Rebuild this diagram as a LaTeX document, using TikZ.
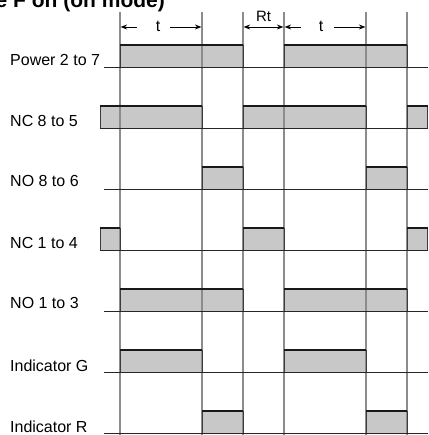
\documentclass[tikz,border=0pt]{standalone}
\usepackage{fontspec}
\setmainfont{Liberation Sans}
\usetikzlibrary{arrows.meta}
\definecolor{boxfill}{RGB}{200,200,200}
\definecolor{vgray}{RGB}{140,140,140}
\definecolor{edgegray}{RGB}{60,60,60}
\begin{document}
\begin{tikzpicture}[x=1pt,y=-1pt,
  lbl/.style={anchor=base west, inner sep=0pt, font=\fontsize{16}{16}\selectfont},
  dimtext/.style={anchor=base, inner sep=0pt, font=\fontsize{16}{16}\selectfont},
  vline/.style={draw=vgray, line width=1.1pt},
  baseln/.style={draw=black!85, line width=0.9pt},
  sideedge/.style={draw=edgegray, line width=0.9pt},
  topedge/.style={draw=black!90, line width=1.8pt},
  dimarrow/.style={draw=black, line width=0.9pt},
  tip/.tip={Stealth[length=6.5pt,width=5pt]}]
\useasboundingbox (0,0) rectangle (428,435);
\def\pulselist{120/243/67, 284/407/67, 100/202/128, 243/366/128, 407/427.6/128, 202/243/189, 366/407/189, 100/120/250, 243/284/250, 407/427.6/250, 120/243/311, 284/407/311, 120/202/372, 284/366/372, 202/243/433, 366/407/433}
% title (clipped at the top edge)
\node[anchor=base west, inner sep=0pt, font=\bfseries\fontsize{21}{21}\selectfont] (title) at (-4.5,8) {e F on (on mode)};
% pulse fills
\foreach \a/\b/\y in \pulselist { \fill[boxfill] (\a,\y-22) rectangle (\b,\y); }
% vertical time lines
\foreach \x in {120,202,243,284,366,407} { \draw[vline] (\x,12) -- (\x,435); }
% pulse edges
\foreach \a/\b/\y in \pulselist {
  \draw[sideedge] (\a,\y) -- (\a,\y-22) (\b,\y-22) -- (\b,\y);
  \draw[topedge] (\a,\y-22) -- (\b,\y-22);
}
% baselines
\foreach \y/\s in {67/104, 128/100, 189/104, 250/100, 311/104, 372/104, 433/104} { \draw[baseln] (\s,\y) -- (428,\y); }
% labels
\node[lbl] (lpow) at (10,65.5) {Power 2 to 7};
\node[lbl] (lnc85) at (10,126.8) {NC 8 to 5};
\node[lbl] (lno86) at (10,186.5) {NO 8 to 6};
\node[lbl] (lnc14) at (10,248) {NC 1 to 4};
\node[lbl] (lno13) at (10,308.5) {NO 1 to 3};
\node[lbl] (lindg) at (10,371.5) {Indicator G};
\node[lbl] (lindr) at (10,432) {Indicator R};
% dimension arrows
\coordinate (t1l) at (120.6,27);
\coordinate (t1a) at (137,27);
\coordinate (t1b) at (170,27);
\coordinate (t1r) at (201.4,27);
\coordinate (rtl) at (243.6,27);
\coordinate (rtr) at (283.4,27);
\coordinate (t2l) at (284.6,27);
\coordinate (t2a) at (301,27);
\coordinate (t2b) at (334,27);
\coordinate (t2r) at (365.4,27);
\draw[dimarrow, tip-] (t1l) -- (t1a);
\draw[dimarrow, -tip] (t1b) -- (t1r);
\node[dimtext] (t1) at (158,31.5) {t};
\draw[dimarrow, tip-tip] (rtl) -- (rtr);
\node[dimtext, font=\fontsize{15}{15}\selectfont] (rt) at (263.5,21.5) {Rt};
\draw[dimarrow, tip-] (t2l) -- (t2a);
\draw[dimarrow, -tip] (t2b) -- (t2r);
\node[dimtext] (t2) at (321,31.5) {t};
\end{tikzpicture}
\end{document}
